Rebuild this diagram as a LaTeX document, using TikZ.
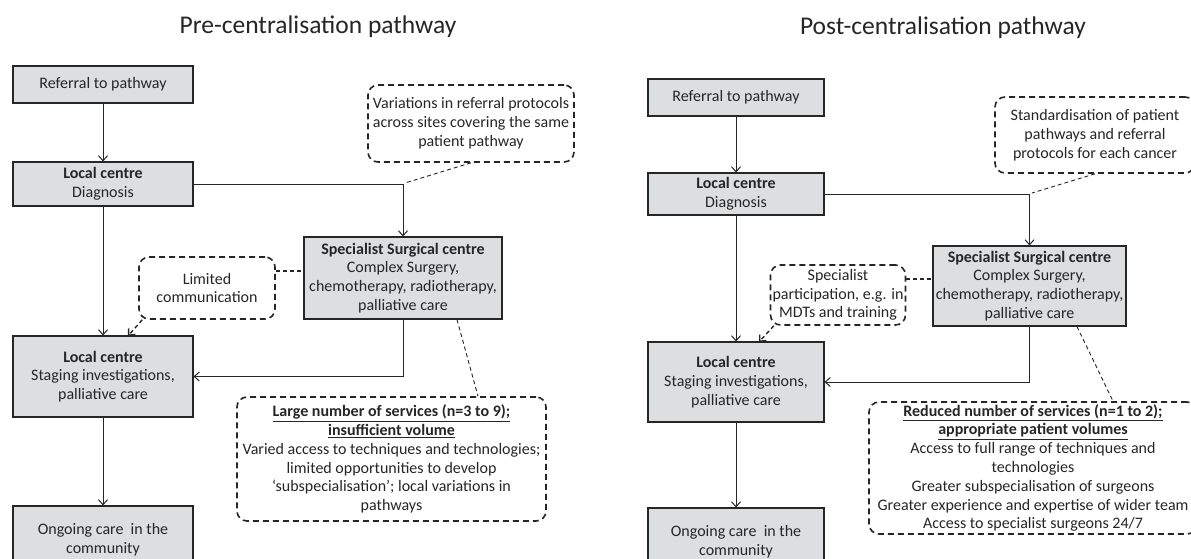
\documentclass[tikz,border=0pt]{standalone}
\usepackage{fontspec}
\setmainfont{Carlito}
\usetikzlibrary{arrows.meta,calc}
\definecolor{boxfill}{RGB}{221,222,224}
\definecolor{ink}{RGB}{38,38,38}
\tikzset{
  box/.style={draw=ink, line width=1.1pt, fill=boxfill, align=center, inner sep=2pt},
  note/.style={draw=ink, dash pattern=on 6pt off 4pt, line width=1.6pt, rounded corners=10pt, align=center, inner sep=2pt, fill=white},
  arr/.style={draw=ink, line width=1pt, -{Straight Barb[length=5pt,width=9pt]}},
  tail/.style={draw=ink, line width=0.9pt, dash pattern=on 4pt off 3pt},
  dasharr/.style={draw=ink, line width=1.4pt, dash pattern=on 4pt off 3pt, -{Straight Barb[length=5pt,width=9pt]}},
  ttl/.style={anchor=base, font=\fontsize{25.5}{30}\selectfont}
}
\begin{document}
\begin{tikzpicture}[x=1pt, y=-1pt, font=\fontsize{16}{18.8}\selectfont, text=ink]
\useasboundingbox (0,0) rectangle (1191,558);
\fill[white] (0,0) rectangle (1191,558);
\clip (0,0) rectangle (1191,558);

% ---------------- left panel ----------------
\node[ttl] (titleL) at (318,33) {Pre-centralisation pathway};

\node[box, minimum width=180pt, minimum height=37pt] (refL) at (103,84.5) {Referral to pathway};
\node[box, minimum width=180pt, minimum height=44pt] (diagL) at (103,184) {\textbf{Local centre}\\Diagnosis};
\node[box, minimum width=198pt, minimum height=82pt] (specL) at (403,278) {\textbf{Specialist Surgical centre}\\Complex Surgery,\\chemotherapy, radiotherapy,\\palliative care};
\node[box, minimum width=180pt, minimum height=81pt] (stagL) at (103,376.5) {\textbf{Local centre}\\Staging investigations,\\palliative care};
\node[box, minimum width=180pt, minimum height=68pt] (ongL) at (103,540) {Ongoing care\ \ in the\\community};

\node[note, minimum width=206pt, minimum height=77pt] (varL) at (471,123.5) {Variations in referral protocols\\across sites covering the same\\patient pathway};
\node[note, minimum width=136pt, minimum height=62pt] (limL) at (207,288) {Limited\\communication};
\node[note, minimum width=309pt, minimum height=124pt] (largeL) at (391.5,459) {\underline{\textbf{Large number of services (n=3 to 9);}}\\\underline{\textbf{insufficient volume}}\\Varied access to techniques and technologies;\\limited opportunities to develop\\‘subspecialisation’; local variations in\\pathways};

\coordinate (tvL) at (405,183);
\coordinate (limEndL) at (128,336);

\draw[arr] (refL) -- (diagL);
\draw[arr] (diagL) -- (stagL);
\draw[arr] (stagL) -- (ongL);
\draw[arr] (diagL.east) -| (specL.north);
\draw[arr] (specL.south) |- (stagL.east);
\draw[tail] (varL.south) -- (tvL);
\draw[tail, line width=1.4pt] ([yshift=17pt]limL.east) -- ([yshift=17pt]limL.east -| specL.west);
\draw[dasharr] ([xshift=4pt]limL.south west) -- (limEndL);
\draw[tail] ([xshift=54pt]specL.south) -- ([xshift=86.5pt]largeL.north);

% ---------------- right panel ----------------
\node[ttl] (titleR) at (943,34) {Post-centralisation pathway};

\node[box, minimum width=176pt, minimum height=37pt] (refR) at (736,97.5) {Referral to pathway};
\node[box, minimum width=176pt, minimum height=42pt] (diagR) at (736,194) {\textbf{Local centre}\\Diagnosis};
\node[box, minimum width=193pt, minimum height=80pt] (specR) at (1029.5,286) {\textbf{Specialist Surgical centre}\\Complex Surgery,\\chemotherapy, radiotherapy,\\palliative care};
\node[box, minimum width=176pt, minimum height=80pt] (stagR) at (736,382) {\textbf{Local centre}\\Staging investigations,\\palliative care};
\node[box, minimum width=176pt, minimum height=68pt] (ongR) at (736,542) {Ongoing care\ \ in the\\community};

\node[note, minimum width=200pt, minimum height=76pt] (stdR) at (1095,135) {Standardisation of patient\\pathways and referral\\protocols for each cancer};
\node[note, minimum width=130pt, minimum height=60pt] (spR) at (838,295) {Specialist\\participation, e.g. in\\MDTs and training};
\node[note, minimum width=328pt, minimum height=132pt] (redR) at (1033,468) {\underline{\textbf{Reduced number of services (n=1 to 2);}}\\\underline{\textbf{appropriate patient volumes}}\\Access to full range of techniques and\\technologies\\Greater subspecialisation of surgeons\\Greater experience and expertise of wider team\\Access to specialist surgeons 24/7};

\coordinate (tvR) at (1032,193);
\coordinate (spEndR) at (759,342);

\draw[arr] (refR) -- (diagR);
\draw[arr] (diagR) -- (stagR);
\draw[arr] (stagR) -- (ongR);
\draw[arr] (diagR.east) -| (specR.north);
\draw[arr] (specR.south) |- (stagR.east);
\draw[tail] (stdR.south) -- (tvR);
\draw[tail, line width=1.4pt] ([yshift=16pt]spR.east) -- ([yshift=16pt]spR.east -| specR.west);
\draw[dasharr] ([xshift=4pt]spR.south west) -- (spEndR);
\draw[tail] ([xshift=47.5pt]specR.south) -- ([xshift=80pt]redR.north);
\end{tikzpicture}
\end{document}
